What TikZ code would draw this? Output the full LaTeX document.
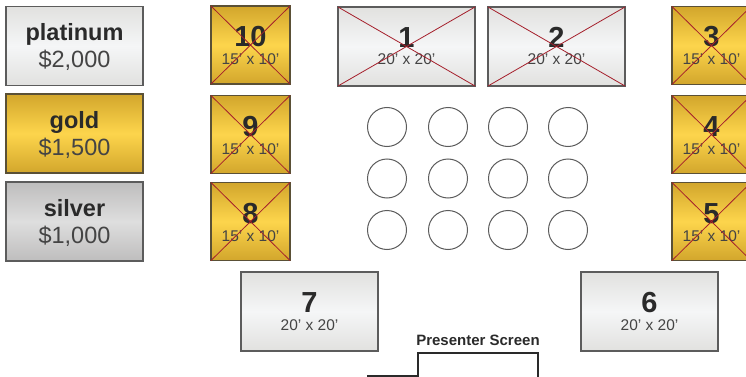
\documentclass[tikz,border=0pt]{standalone}
\usepackage{fontspec}
\setmainfont{Liberation Sans}
\definecolor{goldedge}{HTML}{D2A62C}
\definecolor{goldmid}{HTML}{FDD54C}
\definecolor{goldline}{HTML}{5A5036}
\definecolor{platedge}{HTML}{E1E1DF}
\definecolor{platmid}{HTML}{F5F6F7}
\definecolor{silvedge}{HTML}{BEBDBD}
\definecolor{silvmid}{HTML}{DEDEDE}
\definecolor{boxline}{HTML}{5C5C5C}
\definecolor{crossred}{HTML}{A51F2B}
\definecolor{inktext}{HTML}{2A2A2A}
\definecolor{softtext}{HTML}{444444}
\usetikzlibrary{calc}

\begin{document}
\begin{tikzpicture}[x=1pt,y=-1pt,
  box/.style={draw=boxline,line width=1.2pt,outer sep=0pt,inner sep=0pt},
  goldbox/.style={box,draw=goldline,top color=goldedge,bottom color=goldedge,middle color=goldmid},
  platbox/.style={box,top color=platedge,bottom color=platedge,middle color=platmid},
  silvbox/.style={box,top color=silvedge,bottom color=silvedge,middle color=silvmid},
  smallbooth/.style={minimum width=79pt,minimum height=78pt},
  widebooth/.style={minimum width=137pt,minimum height=79pt},
  boothnum/.style={anchor=base,text=inktext,font=\bfseries\fontsize{29}{32}\selectfont},
  boothdim/.style={anchor=base,text=softtext,font=\fontsize{15.5}{18}\selectfont},
  tiername/.style={anchor=base,text=inktext,font=\bfseries\fontsize{23.5}{27}\selectfont},
  tierprice/.style={anchor=base,text=softtext,font=\fontsize{23.5}{27}\selectfont},
  crossout/.style={draw=crossred,line width=.8pt},
  seat/.style={circle,draw=boxline,line width=1pt,minimum size=39pt,inner sep=0pt}]
\useasboundingbox (0,0) rectangle (746,377);
% price tiers
\foreach \t/\x/\y/\s/\p in {plat/74.5/46/platinum/{\$2,000},gold/74.5/133.5/gold/{\$1,500},silv/74.5/221.5/silver/{\$1,000}}{
  \node[\t box,widebooth,minimum height=79pt] (\t) at (\x,\y) {};
  \node[tiername] at ([yshift=5pt]\t.center) {\s};
  \node[tierprice] at ([yshift=-21.5pt]\t.center) {\p};
}
% small booths, all taken
\foreach \n/\x/\y in {10/250.5/45,9/250.5/134.5,8/250.5/221.5,3/711.5/45.5,4/711.5/134.5,5/711.5/221.5}{
  \node[goldbox,smallbooth] (b\n) at (\x,\y) {};
  \node[boothnum] at ([yshift=-1.5pt]b\n.center) {\n};
  \node[boothdim] at ([yshift=-19.5pt]b\n.center) {15' x 10'};
  \draw[crossout] (b\n.north west)--(b\n.south east) (b\n.north east)--(b\n.south west);
}
% large booths
\foreach \n/\x/\y in {1/406.5/46.5,2/556.5/46.5,7/309.5/311.5,6/649.5/311.5}{
  \node[platbox,widebooth] (b\n) at (\x,\y) {};
  \node[boothnum] at ([yshift=-1pt]b\n.center) {\n};
  \node[boothdim] at ([yshift=-18.5pt]b\n.center) {20' x 20'};
}
\foreach \n in {1,2}
  \draw[crossout] (b\n.north west)--(b\n.south east) (b\n.north east)--(b\n.south west);
% tables
\foreach \x [count=\i] in {387,448,508,568}
  \foreach \y [count=\j] in {127,178.5,230}
    \node[seat] (t\i\j) at (\x,\y) {};
% screen
\node[anchor=base,text=inktext,font=\bfseries\fontsize{15}{18}\selectfont] (screen) at (478,345) {Presenter Screen};
\coordinate (s1) at (367,375.5);
\coordinate (s2) at (538,377);
\draw[line width=2pt,draw=inktext] (s1) -| (418,353) -| (s2);
\end{tikzpicture}
\end{document}
